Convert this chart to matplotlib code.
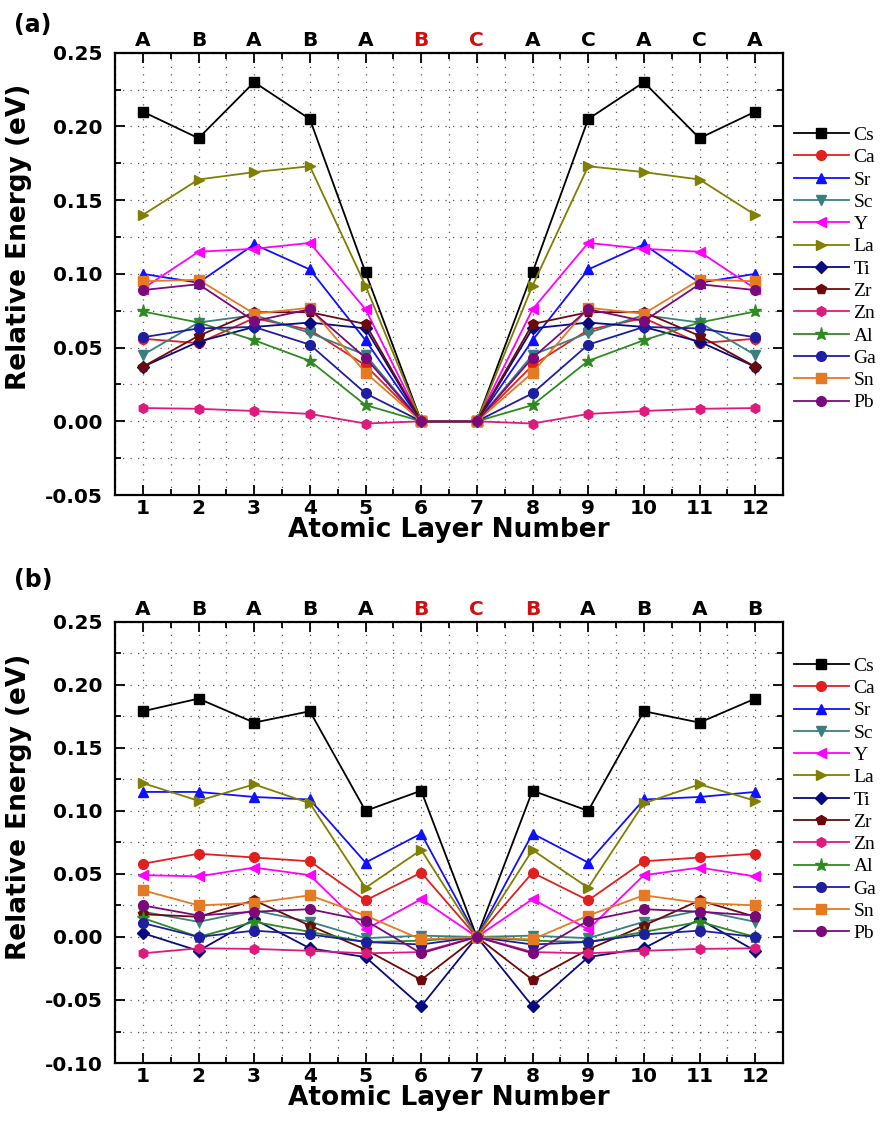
import numpy as np
import matplotlib
matplotlib.use("Agg")
import matplotlib.pyplot as plt
from matplotlib.ticker import MultipleLocator

layers = list(range(1, 13))
elements = ["Cs", "Ca", "Sr", "Sc", "Y", "La", "Ti", "Zr", "Zn", "Al", "Ga", "Sn", "Pb"]
colors = ["#000000", "#e0201e", "#1010ff", "#3a7f80", "#ff00ff", "#7f7f00", "#0a0a80",
          "#6b0a0a", "#de1a7c", "#2f8a22", "#1e1ea0", "#e57a22", "#7a0a7a"]
markers = ["s", "o", "^", "v", "<", ">", "D", "p", "h", "*", "o", "s", "o"]

# panel (a): stacking A B A B A B C A C A C A
top_a = ["A", "B", "A", "B", "A", "B", "C", "A", "C", "A", "C", "A"]
red_a = [6, 7]
energy_a = {
    "Cs": [0.210, 0.192, 0.230, 0.205, 0.101, 0.0, 0.0, 0.101, 0.205, 0.230, 0.192, 0.210],
    "Ca": [0.056, 0.053, 0.070, 0.062, 0.038, 0.0, 0.0, 0.038, 0.062, 0.070, 0.053, 0.056],
    "Sr": [0.100, 0.094, 0.120, 0.103, 0.055, 0.0, 0.0, 0.055, 0.103, 0.120, 0.094, 0.100],
    "Sc": [0.045, 0.067, 0.072, 0.060, 0.045, 0.0, 0.0, 0.045, 0.060, 0.072, 0.067, 0.045],
    "Y":  [0.090, 0.115, 0.117, 0.121, 0.076, 0.0, 0.0, 0.076, 0.121, 0.117, 0.115, 0.090],
    "La": [0.140, 0.164, 0.169, 0.173, 0.092, 0.0, 0.0, 0.092, 0.173, 0.169, 0.164, 0.140],
    "Ti": [0.037, 0.054, 0.064, 0.067, 0.063, 0.0, 0.0, 0.063, 0.067, 0.064, 0.054, 0.037],
    "Zr": [0.037, 0.058, 0.074, 0.074, 0.066, 0.0, 0.0, 0.066, 0.074, 0.074, 0.058, 0.037],
    "Zn": [0.009, 0.0085, 0.007, 0.005, -0.0015, 0.0, 0.0, -0.0015, 0.005, 0.007, 0.0085, 0.009],
    "Al": [0.0745, 0.067, 0.055, 0.041, 0.011, 0.0, 0.0, 0.011, 0.041, 0.055, 0.067, 0.0745],
    "Ga": [0.057, 0.063, 0.064, 0.052, 0.019, 0.0, 0.0, 0.019, 0.052, 0.064, 0.063, 0.057],
    "Sn": [0.095, 0.096, 0.073, 0.077, 0.033, 0.0, 0.0, 0.033, 0.077, 0.073, 0.096, 0.095],
    "Pb": [0.089, 0.093, 0.068, 0.076, 0.043, 0.0, 0.0, 0.043, 0.076, 0.068, 0.093, 0.089],
}

# panel (b): stacking A B A B A B C B A B A B
top_b = ["A", "B", "A", "B", "A", "B", "C", "B", "A", "B", "A", "B"]
red_b = [6, 7, 8]
energy_b = {
    "Cs": [0.179, 0.189, 0.170, 0.179, 0.100, 0.116, 0.0, 0.116, 0.100, 0.179, 0.170, 0.189],
    "Ca": [0.058, 0.066, 0.063, 0.060, 0.029, 0.051, 0.0, 0.051, 0.029, 0.060, 0.063, 0.066],
    "Sr": [0.115, 0.115, 0.111, 0.109, 0.059, 0.082, 0.0, 0.082, 0.059, 0.109, 0.111, 0.115],
    "Sc": [0.020, 0.012, 0.021, 0.012, -0.001, 0.001, 0.0, 0.001, -0.001, 0.012, 0.021, 0.012],
    "Y":  [0.049, 0.048, 0.055, 0.049, 0.006, 0.030, 0.0, 0.030, 0.006, 0.049, 0.055, 0.048],
    "La": [0.122, 0.108, 0.121, 0.106, 0.039, 0.069, 0.0, 0.069, 0.039, 0.106, 0.121, 0.108],
    "Ti": [0.003, -0.011, 0.014, -0.009, -0.016, -0.055, 0.0, -0.055, -0.016, -0.009, 0.014, -0.011],
    "Zr": [0.018, 0.016, 0.029, 0.009, -0.010, -0.034, 0.0, -0.034, -0.010, 0.009, 0.029, 0.016],
    "Zn": [-0.013, -0.009, -0.0095, -0.011, -0.013, -0.012, 0.0, -0.012, -0.013, -0.011, -0.0095, -0.009],
    "Al": [0.015, 0.000, 0.012, 0.004, -0.004, -0.003, 0.0, -0.003, -0.004, 0.004, 0.012, 0.000],
    "Ga": [0.011, 0.000, 0.005, 0.002, -0.004, -0.006, 0.0, -0.006, -0.004, 0.002, 0.005, 0.000],
    "Sn": [0.037, 0.025, 0.027, 0.033, 0.017, -0.002, 0.0, -0.002, 0.017, 0.033, 0.027, 0.025],
    "Pb": [0.025, 0.017, 0.020, 0.022, 0.013, -0.013, 0.0, -0.013, 0.013, 0.022, 0.020, 0.017],
}

plt.rcParams["font.family"] = ["DejaVu Sans"]

fig = plt.figure(figsize=(8.82, 11.31), dpi=100)
ax_a = fig.add_axes([0.1304, 0.5623, 0.7574, 0.3911])
ax_b = fig.add_axes([0.1304, 0.0601, 0.7574, 0.3902])


def draw_panel(ax, energy, top_labels, red_idx, ylim, leg_y, ylab_y):
    for el, c, m in zip(elements, colors, markers):
        ms = 9.5 if m == "*" else 7
        if m == "D":
            ms = 6
        ax.plot(layers, energy[el], color=c, marker=m, ms=ms, lw=1.3,
                mec=c, mfc=c, label=el)

    ax.set_xlim(0.5, 12.5)
    ax.set_ylim(*ylim)
    ax.xaxis.set_major_locator(MultipleLocator(1))
    ax.xaxis.set_minor_locator(MultipleLocator(0.5))
    ax.yaxis.set_major_locator(MultipleLocator(0.05))
    ax.yaxis.set_minor_locator(MultipleLocator(0.025))
    ax.yaxis.set_major_formatter(plt.FuncFormatter(lambda v, p: f"{v:.2f}"))
    ax.grid(True, which="both", color="#555555", linestyle=(0, (1, 5)), lw=0.9)
    ax.set_axisbelow(True)
    ax.tick_params(which="both", direction="in", top=True, right=True, width=1.3)
    ax.tick_params(which="major", length=7, labelsize=14.5)
    ax.tick_params(axis="y", which="major", pad=9)
    ax.tick_params(axis="x", which="major", pad=3)
    ax.tick_params(which="minor", length=4)
    for lab in ax.get_xticklabels() + ax.get_yticklabels():
        lab.set_fontweight("bold")
    for s in ax.spines.values():
        s.set_linewidth(1.6)

    ax.set_xlabel("Atomic Layer Number", fontsize=19, fontweight="bold", labelpad=-1)
    ax.set_ylabel("Relative Energy (eV)", fontsize=19, fontweight="bold")
    ax.yaxis.set_label_coords(-0.124, ylab_y)

    sec = ax.secondary_xaxis("top")
    sec.set_xticks(layers, top_labels)
    sec.tick_params(length=0, labelsize=14.5, pad=2)
    for i, lab in enumerate(sec.get_xticklabels()):
        lab.set_fontweight("bold")
        if (i + 1) in red_idx:
            lab.set_color("#d01010")
    sec.spines["top"].set_visible(False)

    ax.legend(loc="upper left", bbox_to_anchor=(1.005, leg_y), frameon=False,
              prop={"family": "Liberation Serif", "size": 14}, handlelength=2.8,
              handletextpad=0.25, labelspacing=0.24, borderaxespad=0)


draw_panel(ax_a, energy_a, top_a, red_a, (-0.05, 0.25), 0.851, 0.584)
draw_panel(ax_b, energy_b, top_b, red_b, (-0.10, 0.25), 0.937, 0.58)

fig.text(0.016, 0.978, "(a)", fontsize=17, fontweight="bold", ha="left", va="center")
fig.text(0.016, 0.487, "(b)", fontsize=17, fontweight="bold", ha="left", va="center")

fig.savefig("out.png", dpi=100)
